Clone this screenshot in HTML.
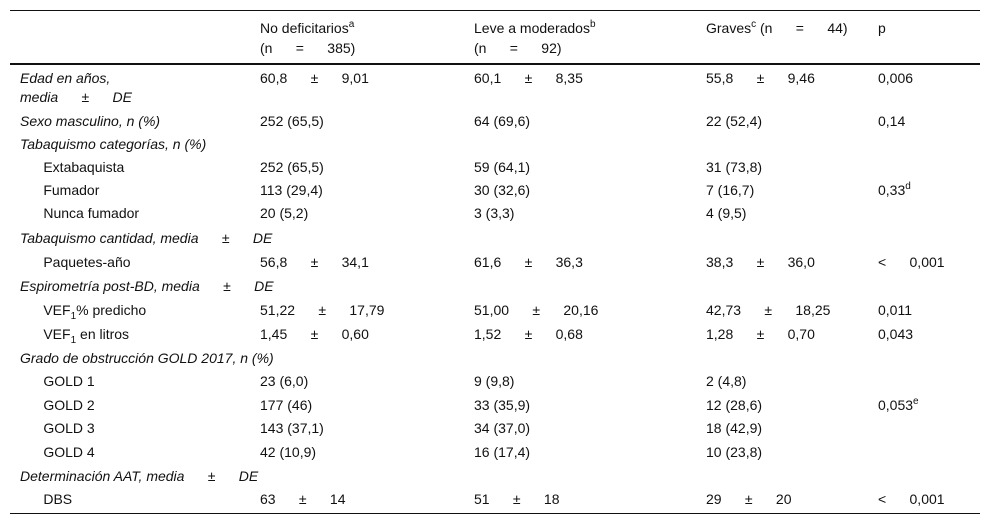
<!DOCTYPE html>
<html><head><meta charset="utf-8">
<style>
body{margin:0;width:992px;height:526px;background:#fff;position:relative;overflow:hidden;font-family:"Liberation Sans",Arial,sans-serif;font-size:14px;color:#111}
.c{position:absolute;white-space:pre;line-height:16px}
.line{position:absolute;left:10px;width:970px;background:#111}
sup{font-size:10px;vertical-align:top;position:relative;top:-3px}
sub{font-size:10px;vertical-align:baseline;position:relative;top:4px}
</style></head><body>
<div class="line" style="top:10px;height:1px"></div>
<div class="line" style="top:63px;height:2px"></div>
<div class="line" style="top:513px;height:1px"></div>
<div id="t"></div>
<script>
const S="      ";
const colX=[20,260,474,706,878];
const header=[["","No deficitarios<sup>a</sup>","Leve a moderados<sup>b</sup>","Graves<sup>c</sup> (n"+S+"="+S+"44)","p"],["","(n"+S+"="+S+"385)","(n"+S+"="+S+"92)","",""]];
const rows=[
[78,"<i>Edad en años,</i>","60,8"+S+"±"+S+"9,01","60,1"+S+"±"+S+"8,35","55,8"+S+"±"+S+"9,46","0,006"],
[97,"<i>media"+S+"±"+S+"DE</i>","","","",""],
[121,"<i>Sexo masculino, n (%)</i>","252 (65,5)","64 (69,6)","22 (52,4)","0,14"],
[144,"<i>Tabaquismo categorías, n (%)</i>","","","",""],
[167,"      Extabaquista","252 (65,5)","59 (64,1)","31 (73,8)",""],
[190,"      Fumador","113 (29,4)","30 (32,6)","7 (16,7)","0,33<sup>d</sup>"],
[213,"      Nunca fumador","20 (5,2)","3 (3,3)","4 (9,5)",""],
[238,"<i>Tabaquismo cantidad, media"+S+"±"+S+"DE</i>","","","",""],
[262,"      Paquetes-año","56,8"+S+"±"+S+"34,1","61,6"+S+"±"+S+"36,3","38,3"+S+"±"+S+"36,0","&lt;"+S+"0,001"],
[286,"<i>Espirometría post-BD, media"+S+"±"+S+"DE</i>","","","",""],
[310,"      VEF<sub>1</sub>% predicho","51,22"+S+"±"+S+"17,79","51,00"+S+"±"+S+"20,16","42,73"+S+"±"+S+"18,25","0,011"],
[334,"      VEF<sub>1</sub> en litros","1,45"+S+"±"+S+"0,60","1,52"+S+"±"+S+"0,68","1,28"+S+"±"+S+"0,70","0,043"],
[358,"<i>Grado de obstrucción GOLD 2017, n (%)</i>","","","",""],
[381,"      GOLD 1","23 (6,0)","9 (9,8)","2 (4,8)",""],
[405,"      GOLD 2","177 (46)","33 (35,9)","12 (28,6)","0,053<sup>e</sup>"],
[428,"      GOLD 3","143 (37,1)","34 (37,0)","18 (42,9)",""],
[452,"      GOLD 4","42 (10,9)","16 (17,4)","10 (23,8)",""],
[476,"<i>Determinación AAT, media"+S+"±"+S+"DE</i>","","","",""],
[499,"      DBS","63"+S+"±"+S+"14","51"+S+"±"+S+"18","29"+S+"±"+S+"20","&lt;"+S+"0,001"]];
const t=document.getElementById('t');
function cell(y,x,h,name){
  const d=document.createElement('div');
  d.className='c';d.style.top=(y-8)+'px';d.style.left=x+'px';d.innerHTML=h;
  
  
  t.appendChild(d);
}
header.forEach((r,ri)=>r.forEach((h,ci)=>{if(h)cell(ri?48:28,colX[ci],h,'header-cell');}));
rows.forEach(r=>{for(let ci=0;ci<5;ci++){if(r[ci+1])cell(r[0],colX[ci],r[ci+1],ci?'value-cell':'row-label');}});
</script>
</body></html>
